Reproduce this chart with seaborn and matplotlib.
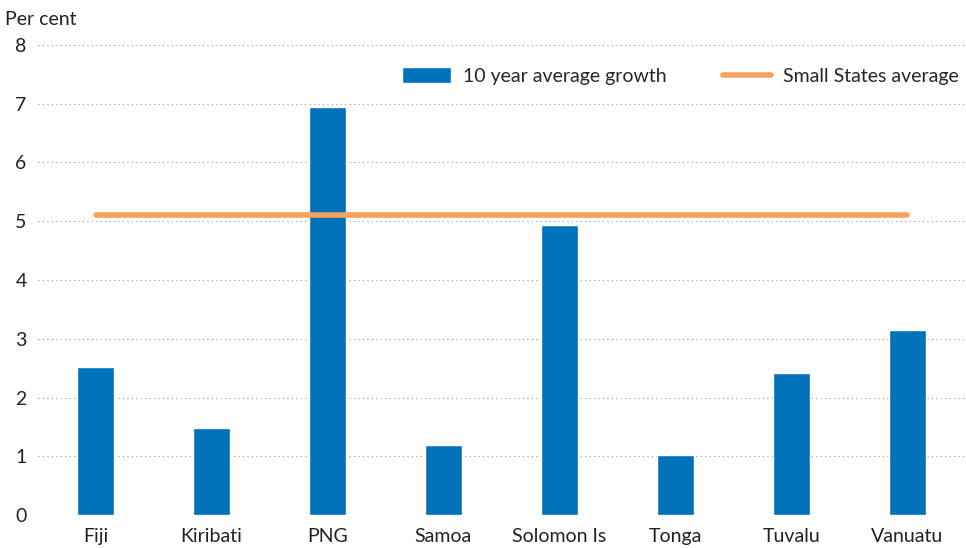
import pandas as pd
import numpy as np
import matplotlib.pyplot as plt
import seaborn as sns

countries = ["Fiji", "Kiribati", "PNG", "Samoa", "Solomon Is", "Tonga", "Tuvalu", "Vanuatu"]
avg_growth = [2.52, 1.48, 6.95, 1.2, 4.94, 1.03, 2.42, 3.15]
small_states_avg = [5.1] * len(countries)
yticks = [0, 1, 2, 3, 4, 5, 6, 7, 8]

sns.set_theme(style="white")
plt.rcParams['font.family'] = ['Lato', 'DejaVu Sans']

df = pd.DataFrame({"country": countries, "growth": avg_growth, "small": small_states_avg})

f = plt.figure(figsize=(9.66, 5.48), dpi=100)
ax = f.add_axes([0.039, 0.06, 0.96, 0.858])

sns.barplot(data=df, x="country", y="growth", color="#0072BC", width=0.32,
            saturation=1, ax=ax, label="10 year average growth", zorder=2)
sns.lineplot(x=np.arange(len(countries)), y=df["small"], color="#F5A25D", linewidth=4,
             ax=ax, label="Small States average", zorder=3)

ax.set_ylim(0, 8)
ax.set_yticks(yticks)
ax.set_xlim(-0.5, len(countries) - 0.5)
ax.set_xlabel("")
ax.set_ylabel("")
for y in yticks:
    ax.axhline(y, color="#999999", linestyle=(0, (1, 3)), linewidth=0.8, zorder=1)
sns.despine(ax=ax, left=True, bottom=True)
ax.tick_params(axis="both", labelsize=14, colors="#222222", length=0)
ax.tick_params(axis="x", pad=9)
ax.tick_params(axis="y", pad=8)

f.text(0.005, 0.965, "Per cent", fontsize=14, color="#222222", va="center", ha="left")

handles, labels = ax.get_legend_handles_labels()
order = [labels.index("10 year average growth"), labels.index("Small States average")]
ax.legend([handles[i] for i in order], [labels[i] for i in order],
          loc="upper right", bbox_to_anchor=(1.012, 0.99), ncol=2, frameon=False,
          fontsize=14, handlelength=2.5, handleheight=0.9, columnspacing=2.9, handletextpad=0.6)

plt.savefig("out.png", dpi=100)
